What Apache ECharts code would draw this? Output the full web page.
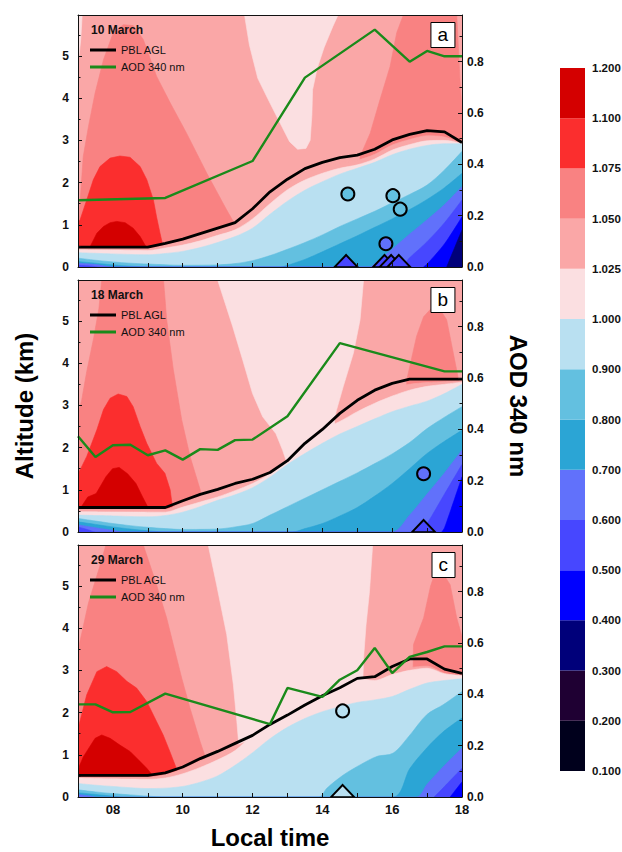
<!DOCTYPE html>
<html><head><meta charset="utf-8">
<script src="https://cdn.jsdelivr.net/npm/echarts@6/dist/echarts.min.js"></script>
<style>html,body{margin:0;padding:0;background:#fff}#c{width:622px;height:852px}</style>
</head><body><div id="c"></div>
<script>
// ---------- colour scale (ratio levels) ----------
const cbLabels = ['0.100','0.200','0.300','0.400','0.500','0.600','0.700','0.800','0.900','1.000','1.025','1.050','1.075','1.100','1.200'];
const cbBounds = [0.1,0.2,0.3,0.4,0.5,0.6,0.7,0.8,0.9,1.0,1.025,1.05,1.075,1.1,1.2];
const cbColors = ['#00001c','#1f0033','#00007a','#0000ff','#4747ff','#6171fb','#2ba5d5','#63c0e0','#b9e0f1','#fbdfe1','#faa7a7','#f98282','#fb2e2e','#d40000'];
const cbBlocks = [1,1,1,1,1,1,1,1,1,1,1,1,1,1];

// ---------- Panel a : 10 March ----------
const pblA = [[7,0.47],[9,0.47],[9.5,0.56],[10,0.66],[10.5,0.79],[11,0.92],[11.5,1.05],[12,1.38],[12.5,1.78],[13,2.08],[13.5,2.33],[14,2.48],[14.5,2.59],[15,2.65],[15.5,2.79],[16,3.01],[16.5,3.14],[17,3.23],[17.5,3.20],[18,2.95]];
const aodA = [[7,0.26],[9.5,0.269],[12,0.413],[13.5,0.738],[15.5,0.925],[16.5,0.80],[17,0.842],[17.5,0.821],[18,0.821]];
const circA = [[14.73,1.73,0.85],[16.02,1.69,0.85],[16.23,1.37,0.85],[15.82,0.55,0.65]];
const triA = [[14.68,0,0.55],[15.78,0,0.55],[15.97,0,0.55],[16.19,0,0.55]];
const aSalmonL = [[7,0],[7,1.05],[7.03,1.19],[7.15,2.62],[7.3,3.33],[7.49,4.12],[7.73,4.91],[8.01,5.55],[8.3,5.74],[8.58,5.72],[8.87,5.39],[9.25,4.52],[9.64,3.89],[10.11,3.17],[10.69,2.22],[11.26,1.35],[11.64,0.8],[11.8,0]];
const aSalmonR = [[16.32,5.97],[16.13,5.55],[15.94,4.75],[15.65,3.96],[15.37,3.17],[15.08,2.62],[14.9,0],[18,0],[18,3.75],[17.95,4.3],[17.85,5.97]];
const aLightU = [[11.77,5.97],[11.91,5.26],[12.15,4.47],[12.43,4.0],[12.77,3.44],[13.06,2.97],[13.29,2.79],[13.53,2.81],[13.65,3.0],[13.7,3.6],[13.72,4.2],[13.85,4.7],[14.05,5.2],[14.3,5.7],[14.45,5.97]];
const aLightCorner = [[7,5.97],[7.12,5.97],[7.08,5.4],[7.03,5.0],[7,4.9]];
const aRed = [[7,0],[7,1.05],[7.06,1.12],[7.25,1.59],[7.44,2.07],[7.63,2.38],[7.92,2.58],[8.2,2.63],[8.49,2.6],[8.78,2.38],[8.97,2.07],[9.16,1.59],[9.25,1.19],[9.35,0.8],[9.44,0.47],[9.5,0]];
const aDarkRed = [[7.3,0],[7.34,0.47],[7.54,0.8],[7.73,0.96],[7.92,1.05],[8.11,1.08],[8.35,1.05],[8.58,0.92],[8.78,0.72],[8.92,0.52],[8.97,0.47],[9.0,0]];
const aH1050 = [[7,0.45],[9,0.45],[9.5,0.53],[10,0.63],[10.5,0.76],[11,0.89],[11.5,1.02],[12,1.33],[12.5,1.72],[13,2.0],[13.5,2.24],[14,2.38],[14.5,2.47],[15,2.53],[15.5,2.67],[16,2.89],[16.5,3.02],[17,3.11],[17.5,3.08],[18,2.92]];
const aH1025 = [[7,0.41],[8,0.40],[9,0.39],[9.5,0.45],[10,0.52],[10.5,0.62],[11,0.75],[11.5,0.88],[12,1.14],[12.5,1.5],[13,1.83],[13.5,2.06],[14,2.22],[14.5,2.34],[15,2.42],[15.5,2.56],[16,2.77],[16.5,2.9],[17,2.99],[17.5,3.0],[18,2.92]];
const aH1000 = [[7,0.34],[8,0.31],[9,0.29],[9.5,0.32],[10,0.37],[10.5,0.46],[11,0.58],[11.5,0.72],[12,0.92],[12.5,1.25],[13,1.56],[13.5,1.82],[14,2.02],[14.5,2.2],[15,2.34],[15.5,2.48],[16,2.66],[16.5,2.79],[17,2.88],[17.5,2.92],[18,2.92]];
const aH0900 = [[7,0.21],[7.5,0.16],[8,0.12],[8.5,0.09],[9,0.07],[10,0.04],[11,0.05],[11.5,0.08],[12,0.15],[12.5,0.27],[13,0.42],[13.5,0.58],[14,0.76],[14.5,0.96],[15,1.14],[15.5,1.32],[16,1.52],[16.5,1.72],[17,1.94],[17.5,2.3],[18,2.74]];
const aH0800 = [[7,0.13],[7.5,0.09],[8,0.05],[8.5,0.02],[9,0],[12.8,0],[13,0.04],[13.5,0.18],[14,0.36],[14.5,0.55],[15,0.74],[15.5,0.94],[16,1.14],[16.5,1.36],[17,1.6],[17.5,1.88],[18,2.22]];
const aH0700 = [[7,0.09],[7.5,0.06],[7.8,0.02],[8,0],[15.37,0],[15.5,0.08],[16,0.42],[16.5,0.78],[17,1.12],[17.5,1.48],[18,1.91]];
const aH0600 = [[7,0.04],[7.4,0.02],[7.6,0],[16.23,0],[16.5,0.22],[17,0.6],[17.5,1.05],[18,1.59]];
const aH0500 = [[16.9,0],[17,0.07],[17.5,0.55],[18,1.19]];
const aH0400 = [[17.56,0],[18,0.88]];

// ---------- Panel b : 18 March ----------
const pblB = [[7,0.58],[9.5,0.58],[10,0.74],[10.5,0.89],[11,1.01],[11.5,1.15],[12,1.25],[12.5,1.41],[13,1.69],[13.5,2.1],[14,2.43],[14.5,2.81],[15,3.12],[15.5,3.36],[16,3.52],[16.5,3.62],[17,3.62],[18,3.62]];
const aodB = [[7,0.373],[7.5,0.292],[8,0.338],[8.5,0.34],[9,0.299],[9.5,0.318],[10,0.282],[10.5,0.323],[11,0.32],[11.5,0.358],[12,0.36],[13,0.451],[14.5,0.736],[17.5,0.626],[18,0.626]];
const circB = [[16.9,1.38,0.65]];
const triB = [[16.9,0,0.55]];
const bSalmonL = [[7,0],[7,2.8],[7.1,3.1],[7.25,3.8],[7.45,4.6],[7.6,5.3],[7.68,5.97],[9.45,5.97],[9.54,5.03],[9.73,3.85],[9.97,2.66],[10.21,1.79],[10.5,1.0],[10.6,0]];
const bSalmonR = [[16.3,0],[16.42,3.61],[16.7,4.64],[16.9,5.1],[17.18,5.35],[17.45,5.17],[17.56,5.03],[17.75,4.24],[17.9,3.61],[17.95,0]];
const bLightU = [[11.0,5.97],[11.43,4.87],[11.72,4.07],[12.0,3.28],[12.29,2.73],[12.67,2.33],[12.86,1.94],[13.0,1.6],[13.05,0],[14.4,0],[14.35,2.7],[14.41,2.9],[14.6,3.45],[14.89,4.24],[15.08,5.03],[15.18,5.97]];
const bRed = [[7,0],[7,1.4],[7.06,1.47],[7.25,1.79],[7.54,2.42],[7.73,2.9],[7.92,3.17],[8.15,3.27],[8.4,3.21],[8.58,2.97],[8.78,2.5],[8.97,2.1],[9.25,1.63],[9.49,1.39],[9.64,1.0],[9.71,0.56],[9.75,0]];
const bDarkRed = [[7.05,0],[7.09,0.59],[7.28,0.83],[7.52,0.91],[7.8,1.31],[7.99,1.5],[8.18,1.53],[8.42,1.38],[8.66,1.15],[8.85,0.83],[9.0,0.59],[9.05,0]];
const bH1050 = [[7,0.55],[9.5,0.55],[10,0.7],[10.5,0.85],[11,0.97],[11.5,1.1],[12,1.2],[12.5,1.35],[13,1.6],[13.5,1.9],[14,2.2],[14.5,2.6],[15,2.95],[15.5,3.22],[16,3.4],[16.5,3.5],[17,3.54],[18,3.58]];
const bH1025 = [[7,0.48],[9.5,0.47],[10,0.59],[10.5,0.71],[11,0.83],[11.5,0.98],[12,1.15],[12.5,1.38],[13,1.69],[13.5,2.1],[14,2.43],[14.5,2.62],[15,2.85],[15.5,3.05],[16,3.22],[16.5,3.36],[17,3.45],[17.5,3.5],[18,3.55]];
const bH1000 = [[7,0.4],[8,0.38],[9,0.36],[9.5,0.39],[10,0.47],[10.5,0.6],[11,0.75],[11.5,0.88],[12,1.05],[12.5,1.3],[13,1.6],[13.5,1.86],[14,2.1],[14.5,2.32],[15,2.5],[15.5,2.68],[16,2.85],[16.5,2.98],[17,3.1],[17.5,3.28],[18,3.5]];
const bH0900 = [[7,0.32],[7.5,0.26],[8,0.2],[8.5,0.15],[9,0.11],[9.5,0.08],[10,0.06],[11,0.07],[11.5,0.12],[12,0.2],[12.5,0.4],[13,0.6],[13.5,0.8],[14,1.0],[14.5,1.2],[15,1.4],[15.5,1.62],[16,1.85],[16.5,2.12],[17,2.45],[17.5,2.72],[18,2.97]];
const bH0800 = [[7,0.24],[7.5,0.18],[8,0.12],[8.5,0.07],[9,0.03],[9.5,0],[13.15,0],[13.5,0.08],[14,0.2],[14.5,0.38],[15,0.58],[15.5,0.85],[16,1.15],[16.5,1.5],[17,1.86],[17.5,2.15],[18,2.41]];
const bH0700 = [[7,0.17],[7.5,0.1],[8,0.04],[8.3,0],[16,0],[16.5,0.4],[17,0.9],[17.5,1.4],[18,1.94]];
const bH0600 = [[7,0.12],[7.3,0.05],[7.5,0],[16.8,0],[17,0.2],[17.5,0.9],[18,1.6]];
const bH0500 = [[17.42,0],[17.5,0.1],[18,1.31]];

// ---------- Panel c : 29 March ----------
const pblC = [[7,0.51],[9,0.51],[9.5,0.57],[10,0.71],[10.5,0.91],[11,1.08],[11.5,1.27],[12,1.46],[12.5,1.72],[13,1.94],[13.5,2.18],[14,2.4],[14.5,2.59],[15,2.81],[15.5,2.85],[16,3.09],[16.5,3.27],[17,3.27],[17.5,3.03],[18,2.93]];
const aodC = [[7,0.361],[7.5,0.361],[8,0.33],[8.5,0.331],[9.5,0.403],[12.5,0.284],[13,0.425],[14,0.39],[14.5,0.457],[15,0.494],[15.5,0.581],[16,0.483],[16.5,0.546],[17,0.565],[17.5,0.587],[18,0.587]];
const circC = [[14.58,2.04,0.95]];
const triC = [[14.58,0,0.95]];
const cSalmonL = [[7,0],[7,3.5],[7.06,3.7],[7.3,4.6],[7.6,5.4],[7.8,5.97],[8.87,5.97],[9.25,5.03],[9.54,4.24],[9.73,3.61],[9.97,2.82],[10.21,2.1],[10.5,1.31],[10.69,0.84],[10.75,0]];
const cSalmonR = [[16.55,0],[16.61,3.61],[16.9,4.24],[17.1,5.0],[17.28,5.43],[17.45,5.3],[17.66,5.03],[17.85,4.24],[18,3.8],[18,0]];
const cLightU = [[10.73,5.97],[10.97,5.03],[11.26,3.85],[11.45,2.66],[11.55,1.79],[11.6,1.3],[11.65,0],[15.2,0],[15.16,2.73],[15.18,3.28],[15.25,4.07],[15.35,4.87],[15.44,5.97]];
const cRed = [[7,0],[7,1.65],[7.03,1.71],[7.25,2.42],[7.54,2.97],[7.82,3.09],[8.11,2.97],[8.4,2.74],[8.68,2.58],[8.97,2.26],[9.25,1.79],[9.44,1.47],[9.63,1.08],[9.78,0.76],[9.85,0.6],[9.9,0]];
const cDarkRed = [[7,0],[7,0.55],[7.05,0.75],[7.15,0.95],[7.25,1.08],[7.49,1.39],[7.68,1.47],[7.92,1.39],[8.2,1.23],[8.49,1.08],[8.78,0.84],[8.97,0.68],[9.11,0.54],[9.15,0]];
const cH1050 = [[7,0.48],[9,0.48],[9.5,0.54],[10,0.67],[10.5,0.86],[11,1.02],[11.5,1.2],[12,1.38],[12.5,1.62],[13,1.84],[13.5,2.08],[14,2.3],[14.5,2.48],[15,2.68],[15.5,2.74],[16,2.92],[16.5,3.06],[17,3.1],[17.5,2.93],[18,2.86]];
const cH1025 = [[7,0.45],[8,0.43],[9,0.42],[9.5,0.45],[10,0.55],[10.5,0.7],[11,0.88],[11.5,1.1],[12,1.46],[12.5,1.72],[13,1.94],[13.5,2.18],[14,2.4],[14.5,2.59],[15,2.81],[15.5,2.76],[16,2.9],[16.5,3.0],[17,3.05],[17.5,2.92],[18,2.88]];
const cH1000 = [[7,0.32],[7.5,0.28],[8,0.25],[8.5,0.22],[9,0.2],[9.5,0.21],[10,0.25],[10.5,0.35],[11,0.5],[11.5,0.75],[12,1.05],[12.5,1.38],[13,1.65],[13.5,1.86],[14,2.02],[14.5,2.14],[15,2.24],[15.5,2.3],[16,2.38],[16.5,2.55],[17,2.7],[17.5,2.76],[18,2.8]];
const cH0900 = [[7,0.17],[7.5,0.12],[8,0.08],[8.5,0.05],[9,0.02],[9.5,0],[13.9,0],[14.13,0.21],[14.6,0.52],[15.08,0.76],[15.56,0.96],[16.03,1.04],[16.51,1.47],[16.99,1.95],[17.47,2.19],[18,2.5]];
const cH0800 = [[7,0.1],[7.5,0.06],[8,0.02],[8.3,0],[16.03,0],[16.51,0.68],[16.99,1.16],[17.47,1.55],[18,1.87]];
const cH0700 = [[7,0.06],[7.3,0.03],[7.5,0],[16.7,0],[17,0.3],[17.5,0.75],[18,1.16]];
const cH0600 = [[17.2,0],[17.5,0.25],[18,0.68]];
const cH0500 = [[17.66,0],[18,0.36]];

// ---------- assembly ----------
const F = 'Liberation Sans, Arial, sans-serif';
const AX = '#111';
const panels = [
  {top:15, date:'10 March', letter:'a', pbl:pblA, aod:aodA, circ:circA, tri:triA,
   regions:[[aSalmonL,11],[aSalmonR,11],[aLightU,9],[aLightCorner,9],[aRed,12],[aDarkRed,13]],
   bands:[[aH1050,10],[aH1025,9],[aH1000,8],[aH0900,7],[aH0800,6],[aH0700,5],[aH0600,4],[aH0500,3],[aH0400,2]]},
  {top:280, date:'18 March', letter:'b', pbl:pblB, aod:aodB, circ:circB, tri:triB,
   regions:[[bSalmonL,11],[bSalmonR,11],[bLightU,9],[bRed,12],[bDarkRed,13]],
   bands:[[bH1050,10],[bH1025,9],[bH1000,8],[bH0900,7],[bH0800,6],[bH0700,5],[bH0600,4],[bH0500,3]]},
  {top:545, date:'29 March', letter:'c', pbl:pblC, aod:aodC, circ:circC, tri:triC,
   regions:[[cSalmonL,11],[cSalmonR,11],[cLightU,9],[cRed,12],[cDarkRed,13]],
   bands:[[cH1050,10],[cH1025,9],[cH1000,8],[cH0900,7],[cH0800,6],[cH0700,5],[cH0600,4],[cH0500,3]]}
];

const grid=[], xAxis=[], yAxis=[], series=[], title=[], legend=[];
const scatterIdx = [];
const pad2 = v => (v < 10 ? '0' + v : '' + v);

panels.forEach((p, i) => {
  grid.push({left:78, top:p.top, width:384, height:252, show:true, backgroundColor:cbColors[10], borderWidth:0, outerBoundsMode:'none', containLabel:false});
  const nameStyle = {fontSize:24, fontWeight:'bold', color:'#000', fontFamily:F};
  xAxis.push({type:'value', gridIndex:i, min:7, max:18, interval:1, position:'bottom', z:20,
    axisLine:{show:true, onZero:false, lineStyle:{color:AX, width:1}},
    axisTick:{show:true, inside:true, length:4, lineStyle:{color:AX}},
    axisLabel:{show:i===2, formatter:v => (v % 2 === 0 ? pad2(v) : ''), fontSize:13, fontWeight:'bold', color:AX, margin:6, fontFamily:F},
    splitLine:{show:false},
    name: i===2 ? 'Local time' : '', nameLocation:'middle', nameGap:28, nameTextStyle:nameStyle});
  xAxis.push({type:'value', gridIndex:i, min:7, max:18, position:'top', z:20,
    axisLine:{show:true, onZero:false, lineStyle:{color:AX, width:1}},
    axisTick:{show:false}, axisLabel:{show:false}, splitLine:{show:false}});
  yAxis.push({type:'value', gridIndex:i, min:0, max:5.97, interval:1, position:'left', z:20,
    axisLine:{show:true, onZero:false, lineStyle:{color:AX, width:1}},
    axisTick:{show:true, inside:true, length:4, lineStyle:{color:AX}},
    minorTick:{show:true, splitNumber:2, length:2.5, lineStyle:{color:AX}},
    axisLabel:{fontSize:12, fontWeight:'bold', color:AX, margin:9, showMaxLabel:false, fontFamily:F},
    splitLine:{show:false},
    name: i===1 ? 'Altitude (km)' : '', nameLocation:'middle', nameGap:42, nameRotate:90, nameTextStyle:nameStyle});
  yAxis.push({type:'value', gridIndex:i, min:0, max:0.982, interval:0.2, position:'right', z:20,
    axisLine:{show:true, onZero:false, lineStyle:{color:AX, width:1}},
    axisTick:{show:true, inside:true, length:4, lineStyle:{color:AX}},
    minorTick:{show:true, splitNumber:2, length:2.5, lineStyle:{color:AX}},
    axisLabel:{fontSize:12, fontWeight:'bold', color:AX, margin:5, showMaxLabel:false, formatter:v => v.toFixed(1), fontFamily:F},
    splitLine:{show:false},
    name: i===1 ? 'AOD 340 nm' : '', nameLocation:'middle', nameGap:44, nameRotate:-90, nameTextStyle:nameStyle});

  const xi = 2*i, yl = 2*i, yr = 2*i+1;
  const regs = p.regions;
  series.push({type:'custom', xAxisIndex:xi, yAxisIndex:yl, clip:true, silent:true, z:1,
    data: regs.map((r, k) => [7, 0, k]),
    renderItem: (params, api) => {
      const r = regs[api.value(2)];
      return {type:'polygon', shape:{points: r[0].map(pt => api.coord(pt))},
              style:{fill: cbColors[r[1]], stroke: cbColors[r[1]], lineWidth:0.6}};
    }});
  p.bands.forEach((b, k) => {
    series.push({type:'line', xAxisIndex:xi, yAxisIndex:yl, data:b[0], smooth:0.3, symbol:'none', silent:true,
      z:2+k, lineStyle:{width:0.6, color:cbColors[b[1]]}, areaStyle:{color:cbColors[b[1]], opacity:1, origin:'start'}});
  });
  series.push({type:'line', name:'PBL AGL', xAxisIndex:xi, yAxisIndex:yl, data:p.pbl, symbol:'none', showSymbol:false, z:15,
    lineStyle:{color:'#000', width:2.8}, itemStyle:{color:'#000'}});
  series.push({type:'line', name:'AOD 340 nm', xAxisIndex:xi, yAxisIndex:yr, data:p.aod, symbol:'none', showSymbol:false, z:15,
    lineStyle:{color:'#1a8a1a', width:2.4}, itemStyle:{color:'#1a8a1a'}});
  scatterIdx.push(series.length);
  series.push({type:'scatter', xAxisIndex:xi, yAxisIndex:yl, data:p.circ, symbol:'circle', symbolSize:13, z:16,
    itemStyle:{borderColor:'#000', borderWidth:2, opacity:1}});
  scatterIdx.push(series.length);
  series.push({type:'scatter', xAxisIndex:xi, yAxisIndex:yl, data:p.tri, symbol:'triangle', symbolSize:[23,12], symbolOffset:[0,-6], z:16,
    itemStyle:{borderColor:'#000', borderWidth:1.8, opacity:1}});

  title.push({text:p.date, left:91, top:p.top+9, padding:0, z:30,
    textStyle:{fontSize:12, fontWeight:'bold', color:'#111', fontFamily:F}});
  title.push({text:p.letter, right:167, top:p.top+7, padding:[3,7,4,7], borderColor:'#000', borderWidth:1, backgroundColor:'#fff', z:30,
    textStyle:{fontSize:19, fontWeight:'normal', color:'#000', fontFamily:F}});
  legend.push({data:[{name:'PBL AGL', icon:'rect'},{name:'AOD 340 nm', icon:'rect'}], orient:'vertical', left:90, top:p.top+28.5,
    itemWidth:26, itemHeight:3, itemGap:4, selectedMode:false, z:30, padding:0,
    textStyle:{fontSize:11, lineHeight:13, color:'#111', fontFamily:F}});
});

// colour bar
grid.push({left:560, top:68, width:25, height:703, show:false, outerBoundsMode:'none', containLabel:false});
xAxis.push({type:'category', gridIndex:3, data:['scale'], show:false});
yAxis.push({type:'value', gridIndex:3, min:0, max:cbBlocks.length, interval:1, position:'right',
  axisLine:{show:false}, axisTick:{show:false}, splitLine:{show:false},
  axisLabel:{formatter:v => cbLabels[v], fontSize:11.5, fontWeight:'bold', color:AX, margin:7, showMinLabel:true, showMaxLabel:true, fontFamily:F}});
cbBlocks.forEach((v, k) => {
  series.push({type:'bar', xAxisIndex:6, yAxisIndex:6, stack:'cb', data:[v], barWidth:25, silent:true,
    itemStyle:{color:cbColors[k]}});
});

const pieces = cbColors.map((c, k) => ({gte:cbBounds[k], lt:cbBounds[k+1], color:c}));

const chart = echarts.init(document.getElementById('c'), null, {renderer:'svg'});
chart.setOption({
  animation:false,
  backgroundColor:'#fff',
  textStyle:{fontFamily:F},
  title, legend, grid, xAxis, yAxis,
  visualMap:[{type:'piecewise', show:false, dimension:2, seriesIndex:scatterIdx, pieces}],
  series
});
</script></body></html>
